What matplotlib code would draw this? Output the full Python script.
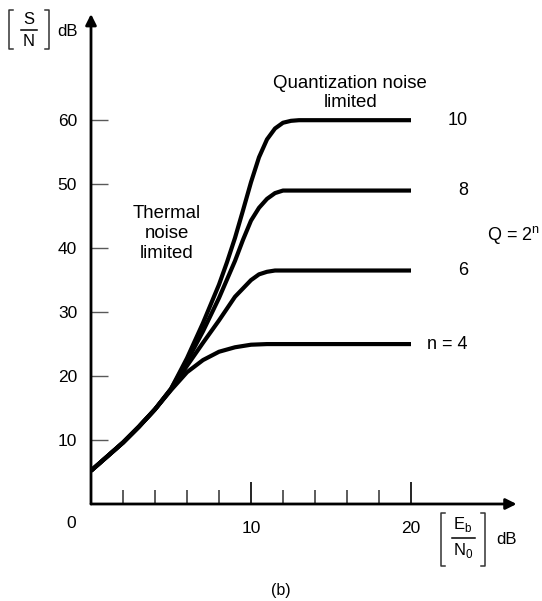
import matplotlib
matplotlib.use("Agg")
import matplotlib.pyplot as plt
from matplotlib.lines import Line2D

plt.rcParams['font.family'] = ['Liberation Sans', 'DejaVu Sans']
plt.rcParams['mathtext.fontset'] = 'custom'
plt.rcParams['mathtext.rm'] = 'Liberation Sans'

# Eb/N0 (dB) and S/N (dB), one curve per bit count n
x_n4 = [0, 1, 2, 3, 4, 5, 6, 7, 8, 9, 10, 11, 20]
y_n4 = [5.2, 7.4, 9.6, 12.1, 14.8, 17.8, 20.6, 22.5, 23.8, 24.5, 24.9, 25.0, 25.0]

x_n6 = [0, 1, 2, 3, 4, 5, 6, 7, 8, 9, 10, 10.5, 11, 11.5, 12, 20]
y_n6 = [5.2, 7.4, 9.6, 12.1, 14.8, 17.9, 21.6, 25.2, 28.7, 32.4, 35.0, 35.9, 36.3, 36.5, 36.5, 36.5]

x_n8 = [0, 1, 2, 3, 4, 5, 6, 7, 8, 9, 9.5, 10, 10.5, 11, 11.5, 12, 20]
y_n8 = [5.2, 7.4, 9.6, 12.1, 14.8, 18.0, 22.3, 27.0, 32.2, 38.0, 41.3, 44.3, 46.3, 47.7, 48.6, 49.0, 49.0]

x_n10 = [0, 1, 2, 3, 4, 5, 6, 7, 8, 8.5, 9, 9.5, 10, 10.5, 11, 11.5, 12, 12.5, 13, 20]
y_n10 = [5.2, 7.4, 9.6, 12.1, 14.8, 18.0, 22.8, 28.3, 34.3, 37.8, 41.6, 45.9, 50.3, 54.2, 57.0, 58.7, 59.6, 59.9, 60.0, 60.0]

curve_labels = ["n = 4", "6", "8", "10"]
plateaus = [25.0, 36.5, 49.0, 60.0]

yticks = [10, 20, 30, 40, 50, 60]
xticks_major = [10, 20]
xticks_minor = [2, 4, 6, 8, 12, 14, 16, 18]

W, H = 542, 601
fig = plt.figure(figsize=(W / 100, H / 100), dpi=100)
ax = fig.add_axes([91 / W, 97 / H, 425.6 / W, 490 / H])
ax.set_xlim(0, 26.6)
ax.set_ylim(0, 76.6)

for xs, ys in [(x_n4, y_n4), (x_n6, y_n6), (x_n8, y_n8), (x_n10, y_n10)]:
    ax.plot(xs, ys, color='black', lw=3, solid_joinstyle='round', solid_capstyle='butt')

for s in ax.spines.values():
    s.set_visible(False)

# axes drawn as arrows
for tip in [(26.6, 0), (0, 76.6)]:
    ax.annotate('', xy=tip, xytext=(0, 0), annotation_clip=False,
                arrowprops=dict(arrowstyle='-|>', lw=2, color='black', mutation_scale=16,
                                shrinkA=0, shrinkB=0))

ax.set_yticks(yticks)
ax.set_yticklabels([str(v) for v in yticks])
ax.tick_params(axis='y', direction='in', length=12, width=1, color='0.35', pad=10, labelsize=12.5)
ax.set_xticks(xticks_major)
ax.set_xticklabels([str(v) for v in xticks_major])
ax.set_xticks(xticks_minor, minor=True)
ax.tick_params(axis='x', which='major', direction='in', length=16, width=1.2, pad=12, labelsize=12.5)
ax.tick_params(axis='x', which='minor', direction='in', length=10, width=1.2, color='0.25')
ax.text(-1.25, -3.0, '0', ha='center', va='center', fontsize=12.5, clip_on=False)

# curve labels
for lab, yv in zip(curve_labels, plateaus):
    ax.text(23.56, yv, lab, ha='right', va='center', fontsize=13)
ax.text(24.75, 42.0, r'Q = 2$^{\mathrm{n}}$', ha='left', va='center', fontsize=13, clip_on=False)

ax.text(16.2, 64.3, 'Quantization noise\nlimited', ha='center', va='center',
        fontsize=13.4, linespacing=1.15)
ax.text(4.75, 42.3, 'Thermal\nnoise\nlimited', ha='center', va='center',
        fontsize=13.4, linespacing=1.25)


def px(x, y):
    return x / W, 1 - y / H


def bracket_fraction(left, right, top, bottom, num, den, bar_y, bar_w, num_y, den_y):
    # square brackets around a stacked fraction, all in pixel coordinates
    for xb, sgn in [(left, 1), (right, -1)]:
        xs = [xb + 4 * sgn, xb, xb, xb + 4 * sgn]
        ys = [top, top, bottom, bottom]
        fx = [px(a, b)[0] for a, b in zip(xs, ys)]
        fy = [px(a, b)[1] for a, b in zip(xs, ys)]
        fig.add_artist(Line2D(fx, fy, color='0.2', lw=1.1))
    cx = (left + right) / 2
    x0, y0 = px(cx - bar_w / 2, bar_y)
    x1, _ = px(cx + bar_w / 2, bar_y)
    fig.add_artist(Line2D([x0, x1], [y0, y0], color='black', lw=1.1))
    fig.text(*px(cx, num_y), num, ha='center', va='center', fontsize=12)
    fig.text(*px(cx, den_y), den, ha='center', va='center', fontsize=12)


bracket_fraction(9, 49, 10, 49, 'S', 'N', 30, 16, 20, 42)
fig.text(*px(57, 32), 'dB', ha='left', va='center', fontsize=12)

bracket_fraction(441, 485, 513, 566, r'E$_\mathrm{b}$', r'N$_\mathrm{0}$', 538, 23, 525, 551)
fig.text(*px(496, 539), 'dB', ha='left', va='center', fontsize=12)

fig.text(*px(281, 590), '(b)', ha='center', va='center', fontsize=11.5)

fig.savefig('out.png', dpi=100)
